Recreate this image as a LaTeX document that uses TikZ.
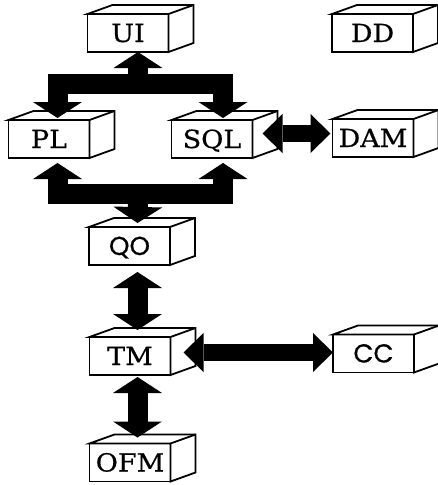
\documentclass[tikz,border=0pt]{standalone}
\usepackage{fontspec}
\usetikzlibrary{arrows.meta,calc}
\newfontfamily\boxfont[FakeStretch=1.08,FakeBold=0.6]{DejaVu Serif}
\newfontfamily\roundfont[FakeBold=0.6]{Poppins}
\begin{document}
\begin{tikzpicture}[x=1pt,y=-1pt,
  box/.style={draw,line width=1.8pt,minimum width=81pt,minimum height=38pt,inner sep=0pt,outer sep=0pt,fill=white,
    text height=18pt,text depth=0pt,font=\boxfont\fontsize{25}{25}\selectfont},
  rbox/.style={box,font=\roundfont\fontsize{26}{26}\selectfont},
  face/.style={draw,line width=1.8pt,line join=miter,fill=white},
  blk/.style={draw=black,line width=20pt,line join=miter},
  hblk/.style={draw=black,line width=17pt,line join=miter},
  vboth/.style={arrows={Triangle[length=16pt,width=49pt,line width=0pt]-Triangle[length=16pt,width=49pt,line width=0pt]}},
  vone/.style={arrows={-Triangle[length=16pt,width=49pt,line width=0pt]}},
  hboth/.style={arrows={Triangle[length=20pt,width=39pt,line width=0pt]-Triangle[length=20pt,width=39pt,line width=0pt]}}
]
\useasboundingbox (0,0) rectangle (437,485);
\node[box] (UI) at (128,33) {UI};
\node[box] (DD) at (372.5,33) {DD};
\node[box] (PL) at (49,139) {PL};
\node[box] (SQL) at (212,139) {SQL};
\node[box] (DAM) at (373,138) {DAM};
\node[rbox] (QO) at (129.5,246) {QO};
\node[box] (TM) at (130,356) {TM};
\node[rbox] (CC) at (373.5,353.5) {CC};
\node[box] (OFM) at (130,462.5) {OFM};
\foreach \n in {UI,DD,PL,SQL,DAM,QO,TM,CC,OFM}{
  \draw[face] (\n.north west) -- ++(25,-9) -- ($(\n.north east)+(25,-9)$) -- ($(\n.south east)+(25,-9)$) -- (\n.south east) -- (\n.north east) -- cycle;
  \draw[line width=1.8pt] (\n.north east) -- ++(25,-9);
}
\coordinate (tb) at (138,83.5);
\coordinate (bb) at (138,194);
\draw[blk,vboth] ($(PL.north)+(8.5,-2)$) |- (tb) -| ($(SQL.north)+(11,-2)$);
\draw[blk,vone] (tb) -- ($(UI.south)+(10,0)$);
\draw[blk,vboth] ($(PL.south)+(8.5,5)$) |- (bb) -| ($(SQL.south)+(11,5)$);
\draw[blk,vone] (bb) -- ($(QO.north)+(8,-4)$);
\draw[blk,vboth] ($(QO.south)+(8,7)$) -- ($(TM.north)+(7.5,-7)$);
\draw[blk,vboth] ($(TM.south)+(7.5,2)$) -- ($(OFM.north)+(7.5,-6)$);
\draw[hblk,hboth] ($(SQL.east)+(10,-5.5)$) -- ($(DAM.west)+(-2,-4.5)$);
\coordinate (tmc) at ($(TM.east)+(13,-3.5)$);
\draw[hblk,hboth] (tmc) -- (tmc -| CC.west);
\end{tikzpicture}
\end{document}
